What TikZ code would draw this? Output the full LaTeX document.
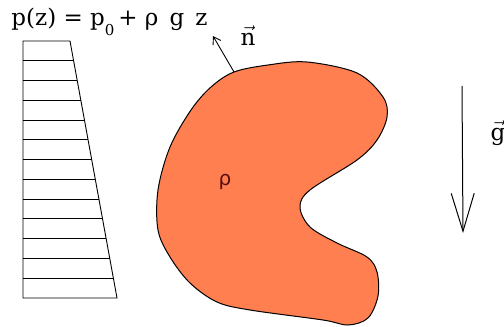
\documentclass[tikz,border=0pt]{standalone}
\usepackage{amsmath}
\usepackage{fontspec}
\setmainfont{DejaVu Serif}
\newfontfamily\labelsans{DejaVu Sans}
\usetikzlibrary{calc, arrows.meta, positioning}
\definecolor{bodyfill}{HTML}{FF7F50}
\definecolor{rhocolor}{HTML}{5A1010}

\begin{document}
\begin{tikzpicture}[
    x=1pt, y=-1pt,
    line width=1pt,
    font=\fontsize{23}{25}\selectfont,
    thinline/.style={draw=black, line width=0.9pt},
    bodyshape/.style={draw=black, fill=bodyfill, line width=1pt},
    normalarrow/.style={-{Straight Barb[length=7pt, width=9pt]}, line width=0.9pt},
    gravityarrow/.style={-{Straight Barb[length=38pt, width=23pt]}, line width=1pt}
]
    \useasboundingbox (0,0) rectangle (504,327);

    % Pressure law (top left)
    \node[anchor=base west, inner sep=0pt] (law) at (11,25)
        {p(z) = p\raisebox{-0.45em}{\fontsize{15}{16}\selectfont 0}\,+ ρ\, g\, z};

    % Pressure profile: trapezoid with hatching
    \coordinate (tl) at (23,41);
    \coordinate (tr) at (70,41);
    \coordinate (br) at (117,298);
    \coordinate (bl) at (23,298);
    \draw[thinline] (tl) -- (tr) -- (br) -- (bl) -- cycle;
    \foreach \k in {1,...,12} {
        \draw[thinline] ($(tl)!\k/13!(bl)$) -- ($(tr)!\k/13!(br)$);
    }

    % Fluid body
    \draw[bodyshape] plot[smooth cycle, tension=0.55] coordinates {
        (234,72) (268,65) (307,62) (357,73) (383,97) (387,117) (377,140) (357,160)
        (310,190) (300,207) (310,227) (337,243) (367,257) (377,272)
        (378,296) (368,318) (348,325) (323,320) (250,310) (217,302)
        (190,283) (170,257) (158,230) (158,190) (170,147) (191,110) (211,87)
    };
    \node[text=rhocolor, font=\labelsans\fontsize{20}{22}\selectfont] (rho) at (225,182) {ρ};

    % Outward normal
    \coordinate (ntail) at (234,72);
    \coordinate (nhead) at (213,36);
    \draw[normalarrow] (ntail) -- (nhead);
    \node[anchor=base, inner sep=0pt] (nlabel) at (248,45) {$\vec{\text{n}}$};

    % Gravity
    \coordinate (gtop) at (462,86);
    \coordinate (gtip) at (463,233);
    \draw[gravityarrow] (gtop) -- (gtip);
    \node[anchor=base west, inner sep=0pt] (glabel) at (490,140) {$\vec{\text{g}}$};
\end{tikzpicture}
\end{document}
